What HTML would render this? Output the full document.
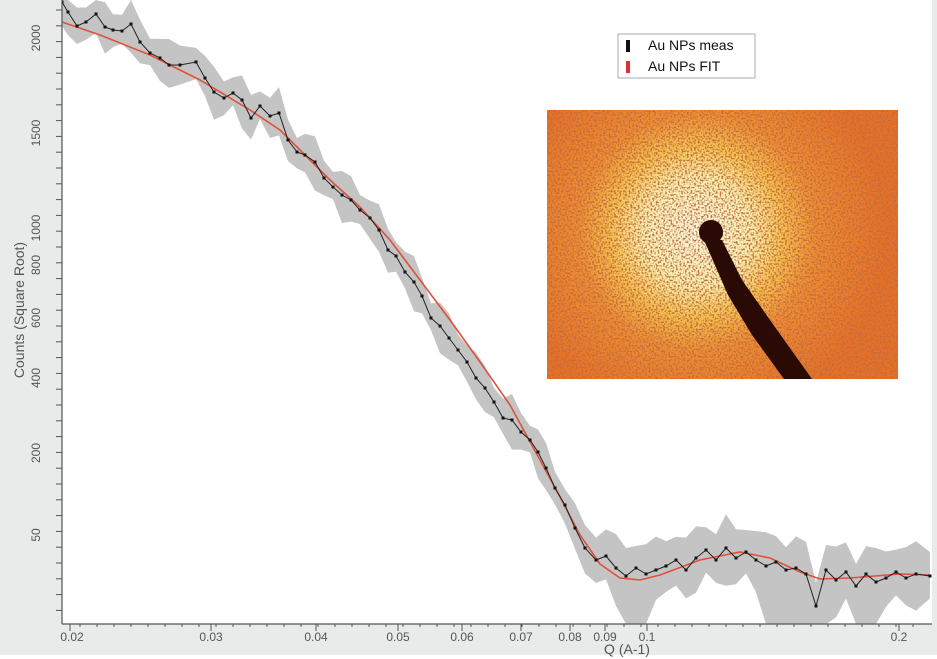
<!DOCTYPE html>
<html><head><meta charset="utf-8"><style>
html,body{margin:0;padding:0;width:937px;height:659px;overflow:hidden;background:#e9eaea;font-family:"Liberation Sans",sans-serif}
</style></head><body>
<svg id="s" width="937" height="659" viewBox="0 0 937 659" xmlns="http://www.w3.org/2000/svg">
<defs>
<filter id="nz" x="0" y="0" width="100%" height="100%">
<feTurbulence type="fractalNoise" baseFrequency="0.55" numOctaves="1" seed="3" result="t"/>
<feColorMatrix in="t" type="matrix" values="0 0 0 0 0.55  0 0 0 0 0.15  0 0 0 0 0.05  0 0 0 -4 2.3" result="d"/>
<feComposite in="d" in2="SourceGraphic" operator="atop"/>
</filter>
<radialGradient id="rg" cx="697" cy="232" r="190" gradientUnits="userSpaceOnUse">
<stop offset="0" stop-color="#fffbe0"/><stop offset="0.28" stop-color="#fdf2b0"/>
<stop offset="0.45" stop-color="#f8c450"/><stop offset="0.62" stop-color="#f09030"/>
<stop offset="1" stop-color="#e87020"/></radialGradient>
</defs>
<rect x="0" y="655" width="937" height="4" fill="#fff"/>
<rect x="62" y="0" width="870" height="624" fill="#fff"/>
<path id="band" fill="#c4c4c4"/>
<polyline id="fit" fill="none" stroke="#e0503a" stroke-width="1.6"/>
<polyline id="meas" fill="none" stroke="#222" stroke-width="1"/>
<g id="dots" fill="#111"></g>
<rect x="58" y="0" width="4" height="624" fill="#e9eaea"/>
<line x1="62" y1="0" x2="62" y2="624" stroke="#555" stroke-width="1.2"/>
<line x1="62" y1="624" x2="932" y2="624" stroke="#555" stroke-width="1.2"/>
<g id="ticks" stroke="#555" stroke-width="1"></g>
<g font-size="12" fill="#555" text-anchor="middle">
<text transform="translate(40,38) rotate(-90)">2000</text>
<text transform="translate(40,133) rotate(-90)">1500</text>
<text transform="translate(40,228) rotate(-90)">1000</text>
<text transform="translate(40,265) rotate(-90)">800</text>
<text transform="translate(40,318) rotate(-90)">600</text>
<text transform="translate(40,378) rotate(-90)">400</text>
<text transform="translate(40,453) rotate(-90)">200</text>
<text transform="translate(40,535) rotate(-90)">50</text>
<text transform="translate(24,310) rotate(-90)" font-size="14">Counts (Square Root)</text>
<text x="72" y="641">0.02</text><text x="211" y="641">0.03</text><text x="316" y="641">0.04</text>
<text x="398" y="641">0.05</text><text x="462" y="641">0.06</text><text x="521" y="641">0.07</text>
<text x="570" y="641">0.08</text><text x="605" y="641">0.09</text><text x="647" y="641">0.1</text>
<text x="899" y="641">0.2</text>
<text x="627" y="654" font-size="14">Q (A-1)</text>
</g>
<rect x="618" y="34" width="137" height="44" fill="#fff" stroke="#aab" stroke-width="1"/>
<rect x="626" y="40" width="4" height="12" fill="#111"/>
<rect x="626" y="61" width="4" height="12" fill="#e03030"/>
<g font-size="14" fill="#111"><text x="648" y="50">Au NPs meas</text><text x="648" y="71">Au NPs FIT</text></g>
<g>
<rect x="547" y="110" width="351" height="269" fill="url(#rg)" filter="url(#nz)"/>
<path d="M704,240 L722,240 L742,280 L770,320 L812,379 L784,379 L752,335 L728,295 Z" fill="#2a0a05"/>
<circle cx="711" cy="232" r="12" fill="#2a0a05"/>
</g>
</svg>
<script>
var m=[[62,2],[68,12],[77,26],[86,22],[96,14],[105,27],[113,30],[122,31],[131,24],[140,42],[150,53],[160,58],[169,65],[180,65],[196,62],[205,78],[214,92],[224,98],[233,93],[242,100],[251,118],[260,106],[270,116],[279,113],[288,140],[297,152],[305,155],[315,162],[324,178],[333,187],[342,195],[351,200],[360,210],[370,218],[379,230],[388,250],[396,256],[405,272],[414,282],[422,296],[431,318],[440,326],[449,338],[458,350],[467,362],[476,378],[485,388],[494,402],[503,418],[512,420],[521,432],[530,440],[538,452],[546,468],[555,488],[565,505],[575,528],[585,548],[596,560],[606,556],[616,568],[626,576],[636,568],[646,574],[656,570],[666,566],[676,560],[686,570],[696,558],[706,550],[716,560],[726,548],[736,558],[746,552],[756,560],[766,566],[776,562],[786,570],[796,568],[806,574],[816,606],[826,570],[836,580],[846,572],[856,586],[866,574],[876,582],[886,578],[896,572],[906,578],[916,574],[930,576]];
var f=[[62,22],[100,35],[150,55],[200,80],[250,110],[280,130],[300,150],[330,180],[360,207],[390,240],[420,280],[450,320],[480,362],[510,405],[540,460],[560,497],[580,535],[600,564],[620,578],[640,580],[660,575],[700,560],[740,552],[770,558],[800,572],[820,579],[850,578],[900,574],[930,575]];
var s=document.getElementById('s'),NS='http://www.w3.org/2000/svg';
function P(a){return a.map(function(p){return p[0]+','+p[1]}).join(' ')}
document.getElementById('meas').setAttribute('points',P(m));
document.getElementById('fit').setAttribute('points',P(f));
var up=[],lo=[];
m.forEach(function(p,i){var w=(p[0]>590?28:20)+6*Math.sin(i*1.7);up.push([p[0],Math.max(0,p[1]-w)]);
var l=p[1]+w+4*Math.cos(i*2.3);if((p[0]>618&&p[0]<652)||(p[0]>765&&p[0]<830)||(p[0]>855&&p[0]<885))l=624;lo.push([p[0],Math.min(624,l)]);});
document.getElementById('band').setAttribute('d','M'+P(up)+' L'+P(lo.reverse())+'Z');
var g=document.getElementById('dots');
m.forEach(function(p){var r=document.createElementNS(NS,'rect');r.setAttribute('x',p[0]-1.5);r.setAttribute('y',p[1]-1.5);r.setAttribute('width',3);r.setAttribute('height',3);g.appendChild(r)});
var t=document.getElementById('ticks');
function L(x1,y1,x2,y2){var l=document.createElementNS(NS,'line');l.setAttribute('x1',x1);l.setAttribute('y1',y1);l.setAttribute('x2',x2);l.setAttribute('y2',y2);t.appendChild(l)}
for(var y=10;y<620;y+=15.8){L(56,y,62,y)}
var xs=[70,211,316,398,462,521,570,605,647,899];
xs.forEach(function(x){L(x,624,x,631)});
for(var x=80;x<930;x+=17){L(x,624,x,627)}
</script>
</body></html>
